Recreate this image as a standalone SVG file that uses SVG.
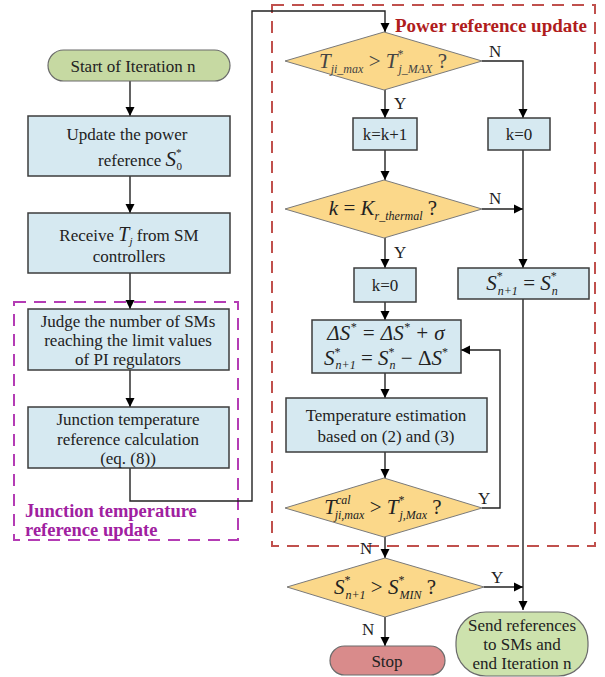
<svg xmlns="http://www.w3.org/2000/svg" width="605" height="677" viewBox="0 0 605 677">
<defs>
<marker id="ah" viewBox="0 0 10 10" refX="10" refY="5" markerWidth="9" markerHeight="12" markerUnits="userSpaceOnUse" orient="auto">
<path d="M0,0 L10,5 L0,10 z" fill="#000"/>
</marker>
<style>
.box{fill:#d6e9f1;stroke:#3c3c3c;stroke-width:1.5}
.dia{fill:#fbd88a;stroke:#7a7a7a;stroke-width:1}
.start{fill:#c6d9a2;stroke:#6b6b6b;stroke-width:1.2}
.send{fill:#cde2ad;stroke:#6b6b6b;stroke-width:1.2}
.stop{fill:#d98b8b;stroke:#6b6b6b;stroke-width:1.2}
.ar{fill:none;stroke:#222;stroke-width:1.4;marker-end:url(#ah)}
text{font-family:"Liberation Serif","Times New Roman",serif;fill:#222}
.t{font-size:17px;text-anchor:middle}
.m{font-size:21px;font-style:italic;text-anchor:middle}
.s{font-size:12px}
.lbl{font-size:17px}
</style>
</defs>

<g id="junction-region">
<rect x="14" y="302" width="224" height="238" fill="none" stroke="#b43cb4" stroke-width="2" stroke-dasharray="12,8"/>
<text x="25" y="517" font-size="18.5" font-weight="bold" style="fill:#a020a0">Junction temperature</text>
<text x="25" y="536" font-size="18.5" font-weight="bold" style="fill:#a020a0">reference update</text>
</g>
<g id="power-region">
<rect x="272" y="5" width="323" height="541" fill="none" stroke="#c0504d" stroke-width="2" stroke-dasharray="12,8"/>
<text x="395" y="32" font-size="19" font-weight="bold" style="fill:#b01c1c">Power reference update</text>
</g>

<g id="connectors">
<path class="ar" d="M130,81 V116"/>
<path class="ar" d="M130,176 V213"/>
<path class="ar" d="M130,273 V309"/>
<path class="ar" d="M130,370 V407"/>
<path class="ar" d="M130,468 V501 H252 V11 H385 V32"/>
<path class="ar" d="M385,90 V118"/>
<path class="ar" d="M385,150 V180"/>
<path class="ar" d="M385,238 V268"/>
<path class="ar" d="M385,302 V320"/>
<path class="ar" d="M385,373 V398"/>
<path class="ar" d="M385,452 V478"/>
<path class="ar" d="M385,537 V558"/>
<path class="ar" d="M385,617 V646"/>
<path class="ar" d="M482,61 H523 V118"/>
<path class="ar" d="M523,150 V268"/>
<path class="ar" d="M482,209 H523"/>
<path class="ar" d="M523,299 V610"/>
<path class="ar" d="M484,587 H523"/>
<path class="ar" d="M482,508 H500 V350 H461"/>
<text class="lbl" x="489" y="57">N</text>
<text class="lbl" x="394" y="109">Y</text>
<text class="lbl" x="489" y="204">N</text>
<text class="lbl" x="394" y="258">Y</text>
<text class="lbl" x="478" y="504">Y</text>
<text class="lbl" x="360" y="554">N</text>
<text class="lbl" x="491" y="583">Y</text>
<text class="lbl" x="362" y="635">N</text>
</g>

<g id="start">
<rect x="48" y="50" width="182" height="31" rx="15.5" class="start"/>
<text class="t" x="133" y="72">Start of Iteration n</text>
</g>
<g id="update-power">
<rect x="28" y="116" width="202" height="60" class="box"/>
<text class="t" x="127" y="140">Update the power</text>
<text class="t" x="140" y="166">reference <tspan font-style="italic" font-size="21">S</tspan><tspan font-size="11" dy="-10">*</tspan><tspan font-size="11" dx="-5" dy="14">0</tspan></text>
</g>
<g id="receive">
<rect x="28" y="213" width="202" height="60" class="box"/>
<text class="t" x="129" y="241">Receive <tspan font-style="italic" font-size="20">T</tspan><tspan font-size="11" font-style="italic" dy="4">j</tspan><tspan dy="-4"> from SM</tspan></text>
<text class="t" x="129" y="262">controllers</text>
</g>
<g id="judge">
<rect x="28" y="309" width="201" height="61" class="box"/>
<text class="t" x="128" y="327">Judge the number of SMs</text>
<text class="t" x="128" y="346">reaching the limit values</text>
<text class="t" x="128" y="365">of PI regulators</text>
</g>
<g id="junction-calc">
<rect x="28" y="407" width="201" height="61" class="box"/>
<text class="t" x="128" y="425">Junction temperature</text>
<text class="t" x="128" y="445">reference calculation</text>
<text class="t" x="128" y="464">(eq. (8))</text>
</g>

<g id="dec1">
<polygon class="dia" points="285,61 384,32 482,61 384,90"/>
<text class="m" x="383" y="68" style="fill:#444">T<tspan class="s" dy="5">ji_max</tspan><tspan font-style="normal" dy="-5"> &gt; </tspan>T<tspan class="s" font-style="normal" dy="-10">*</tspan><tspan class="s" dx="-5" dy="15">j_MAX</tspan><tspan font-style="normal" dy="-5"> ?</tspan></text>
</g>
<g id="kinc">
<rect x="353" y="118" width="64" height="32" class="box"/>
<text class="t" x="385" y="140">k=k+1</text>
</g>
<g id="k0a">
<rect x="488" y="118" width="62" height="32" class="box"/>
<text class="t" x="519" y="140">k=0</text>
</g>
<g id="dec2">
<polygon class="dia" points="285,209 384,180 482,209 384,238"/>
<text class="m" x="383" y="215">k <tspan font-style="normal">=</tspan> K<tspan class="s" dy="5">r_thermal</tspan><tspan font-style="normal" dy="-5"> ?</tspan></text>
</g>
<g id="k0b">
<rect x="354" y="268" width="62" height="34" class="box"/>
<text class="t" x="385" y="291">k=0</text>
</g>
<g id="shold">
<rect x="458" y="268" width="131" height="31" class="box"/>
<text class="m" x="522" y="290" font-size="22">S<tspan class="s" font-style="normal" dy="-10">*</tspan><tspan class="s" dx="-5" dy="15">n+1</tspan><tspan font-style="normal" dy="-5"> = </tspan>S<tspan class="s" font-style="normal" dy="-10">*</tspan><tspan class="s" dx="-5" dy="15">n</tspan></text>
</g>
<g id="delta">
<rect x="312" y="320" width="149" height="53" class="box"/>
<text class="m" x="386" y="340" font-size="20" font-style="normal">Δ<tspan font-style="italic">S</tspan><tspan class="s" font-size="11" dy="-9">*</tspan><tspan dy="9"> = Δ</tspan><tspan font-style="italic">S</tspan><tspan class="s" font-size="11" dy="-9">*</tspan><tspan dy="9"> + </tspan><tspan font-style="italic">σ</tspan></text>
<text class="m" x="386" y="365" font-size="20">S<tspan class="s" font-size="11" font-style="normal" dy="-9">*</tspan><tspan class="s" font-size="11" dx="-5" dy="13">n+1</tspan><tspan font-style="normal" dy="-4"> = </tspan>S<tspan class="s" font-size="11" font-style="normal" dy="-9">*</tspan><tspan class="s" font-size="11" dx="-5" dy="13">n</tspan><tspan font-style="normal" dy="-4"> − Δ</tspan>S<tspan class="s" font-size="11" font-style="normal" dy="-9">*</tspan></text>
</g>
<g id="tempest">
<rect x="286" y="398" width="201" height="54" class="box"/>
<text class="t" x="386" y="421">Temperature estimation</text>
<text class="t" x="386" y="442">based on (2) and (3)</text>
</g>
<g id="dec3">
<polygon class="dia" points="285,508 384,478 482,508 384,537"/>
<text class="m" x="383" y="514" font-size="22">T<tspan class="s" dy="-10">cal</tspan><tspan class="s" dx="-16" dy="15">ji,max</tspan><tspan font-style="normal" dy="-5"> &gt; </tspan>T<tspan class="s" font-style="normal" dy="-10">*</tspan><tspan class="s" dx="-5" dy="15">j,Max</tspan><tspan font-style="normal" dy="-5"> ?</tspan></text>
</g>
<g id="dec4">
<polygon class="dia" points="287,587 385,558 484,587 385,617"/>
<text class="m" x="385" y="594" font-size="23">S<tspan class="s" font-style="normal" dy="-10">*</tspan><tspan class="s" font-size="13" dx="-5" dy="15">n+1</tspan><tspan font-style="normal" dy="-5"> &gt; </tspan>S<tspan class="s" font-style="normal" dy="-10">*</tspan><tspan class="s" font-size="13" dx="-5" dy="15">MIN</tspan><tspan font-style="normal" dy="-5"> ?</tspan></text>
</g>
<g id="stop">
<rect x="330" y="646" width="115" height="29" rx="14.5" class="stop"/>
<text class="t" x="387" y="667">Stop</text>
</g>
<g id="send">
<rect x="456" y="612" width="132" height="64" rx="30" class="send"/>
<text class="t" x="522" y="631">Send references</text>
<text class="t" x="522" y="650">to SMs and</text>
<text class="t" x="522" y="669">end Iteration n</text>
</g>
</svg>
